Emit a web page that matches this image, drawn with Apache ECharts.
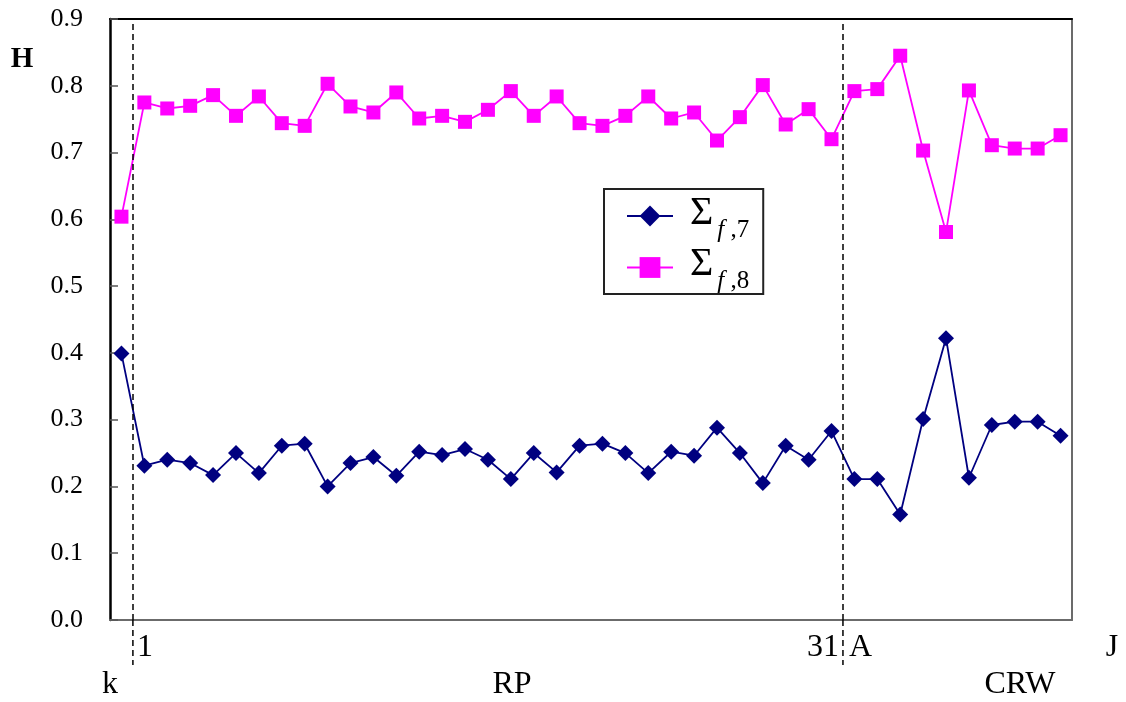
<!DOCTYPE html>
<html>
<head>
<meta charset="utf-8">
<script src="https://cdn.jsdelivr.net/npm/echarts@6/dist/echarts.min.js"></script>
<style>
html,body{margin:0;padding:0;background:#fff;}
#c{width:1126px;height:702px;}
</style>
</head>
<body>
<div id="c"></div>
<script>
// ---- data ----
const xIndex = [0,1,2,3,4,5,6,7,8,9,10,11,12,13,14,15,16,17,18,19,20,21,22,23,24,25,26,27,28,29,30,31,32,33,34,35,36,37,38,39,40,41];
const sigmaF7 = [0.399,0.231,0.240,0.235,0.217,0.250,0.220,0.261,0.264,0.200,0.235,0.244,0.216,0.252,0.247,0.256,0.240,0.211,0.250,0.221,0.261,0.264,0.250,0.220,0.252,0.246,0.288,0.250,0.205,0.261,0.240,0.283,0.211,0.211,0.158,0.301,0.422,0.213,0.292,0.297,0.297,0.276];
const sigmaF8 = [0.604,0.775,0.766,0.770,0.786,0.755,0.784,0.744,0.740,0.803,0.769,0.760,0.790,0.751,0.755,0.746,0.764,0.792,0.755,0.784,0.744,0.740,0.755,0.784,0.751,0.760,0.718,0.753,0.801,0.742,0.765,0.720,0.792,0.795,0.845,0.703,0.581,0.793,0.711,0.706,0.706,0.726];
const seriesNames = ['Σf,7','Σf,8'];
const seriesSubs = [',7', ',8'];
const yTicks = [0,0.1,0.2,0.3,0.4,0.5,0.6,0.7,0.8,0.9];
const dividers = [0.5, 31.5];
const tickLabels = ['1','31','A','J'];
const groupLabels = ['k','RP','CRW'];
const yTitle = 'H';

const serif = 'Liberation Serif';
const chart = echarts.init(document.getElementById('c'), null, {renderer:'canvas'});

function pairs(arr){ return arr.map((v,i)=>[xIndex[i], v]); }

const option = {
  animation:false,
  backgroundColor:'#fff',
  grid:{left:110, right:54, top:19, bottom:82, containLabel:false},
  xAxis:[
    {type:'value', min:-0.5, max:41.5, position:'bottom',
     axisLine:{show:true, onZero:false, lineStyle:{color:'#6b6b6b', width:2}},
     axisTick:{show:false}, axisLabel:{show:false}, splitLine:{show:false}},
    {type:'value', min:-0.5, max:41.5, position:'top',
     axisLine:{show:true, onZero:false, lineStyle:{color:'#000', width:2}},
     axisTick:{show:false}, axisLabel:{show:false}, splitLine:{show:false}}
  ],
  yAxis:[
    {type:'value', min:0, max:0.9, interval:0.1, position:'left',
     axisLine:{show:true, onZero:false, lineStyle:{color:'#000', width:2.5}},
     axisTick:{show:true, inside:true, length:8, lineStyle:{color:'#555', width:1.5}},
     axisLabel:{color:'#000', fontFamily:serif, fontSize:26, margin:27,
       formatter:v=>v.toFixed(1)},
     splitLine:{show:false}},
    {type:'value', min:0, max:0.9, interval:0.1, position:'right',
     axisLine:{show:true, onZero:false, lineStyle:{color:'#6b6b6b', width:2}},
     axisTick:{show:false}, axisLabel:{show:false}, splitLine:{show:false}}
  ],
  legend:{
    left:604, top:189, orient:'vertical',
    padding:[4,14,0,22],
    itemWidth:46, itemHeight:26, itemGap:2,
    borderColor:'#222', borderWidth:2, backgroundColor:'#fff',
    data:seriesNames,
    formatter:function(name){
      const i = seriesNames.indexOf(name);
      return '{s|Σ}{f|f}{n| ' + seriesSubs[i] + '}';
    },
    textStyle:{
      color:'#000', fontFamily:serif,
      rich:{
        s:{fontFamily:serif, fontSize:40, color:'#000', lineHeight:44, padding:[0,4,6,12]},
        f:{fontFamily:serif, fontSize:25, fontStyle:'italic', color:'#000', padding:[28,0,0,0]},
        n:{fontFamily:serif, fontSize:25, color:'#000', padding:[28,0,0,0]}
      }
    }
  },
  series:[
    {name:seriesNames[0], type:'line', data:pairs(sigmaF7),
     symbol:'diamond', symbolSize:[16,16],
     lineStyle:{color:'#000080', width:1.8},
     itemStyle:{color:'#000080'}, z:3,
     markLine:{silent:true, symbol:'none', label:{show:false},
       lineStyle:{color:'#000', type:[6,4], width:1.5},
       data:dividers.map(d=>({xAxis:d}))}},
    {name:seriesNames[1], type:'line', data:pairs(sigmaF8),
     symbol:'rect', symbolSize:[14,14],
     lineStyle:{color:'#ff00ff', width:1.8},
     itemStyle:{color:'#ff00ff'}, z:3}
  ]
};
chart.setOption(option);

// extend dividers below axis and add text labels
const yBase = chart.convertToPixel({yAxisIndex:0}, 0);
const graphics = [];
dividers.forEach(d=>{
  const x = chart.convertToPixel({xAxisIndex:0}, d);
  graphics.push({type:'line', shape:{x1:x, y1:yBase, x2:x, y2:yBase+45},
    style:{stroke:'#000', lineWidth:1.5, lineDash:[6,4]}, z:10});
});
const txt = (text, x, y, align) => ({type:'text', x:x, y:y,
  style:{text:text, fill:'#000', font:'32px "Liberation Serif"', textAlign:align||'center', textVerticalAlign:'middle'}, z:10});
const row1 = 648, row2 = 685;
graphics.push(txt(tickLabels[0], 145, row1));
graphics.push(txt(tickLabels[1], 839, row1, 'right'));
graphics.push(txt(tickLabels[2], 849, row1, 'left'));
graphics.push(txt(tickLabels[3], 1112, row1));
graphics.push(txt(groupLabels[0], 110, row2));
graphics.push(txt(groupLabels[1], 512, row2));
graphics.push(txt(groupLabels[2], 1020, row2));
graphics.push({type:'text', x:22, y:60, style:{text:yTitle, fill:'#000', font:'bold 29px "Liberation Serif"', textAlign:'center', textVerticalAlign:'middle'}, z:10});
chart.setOption({graphic:graphics});
</script>
</body>
</html>
